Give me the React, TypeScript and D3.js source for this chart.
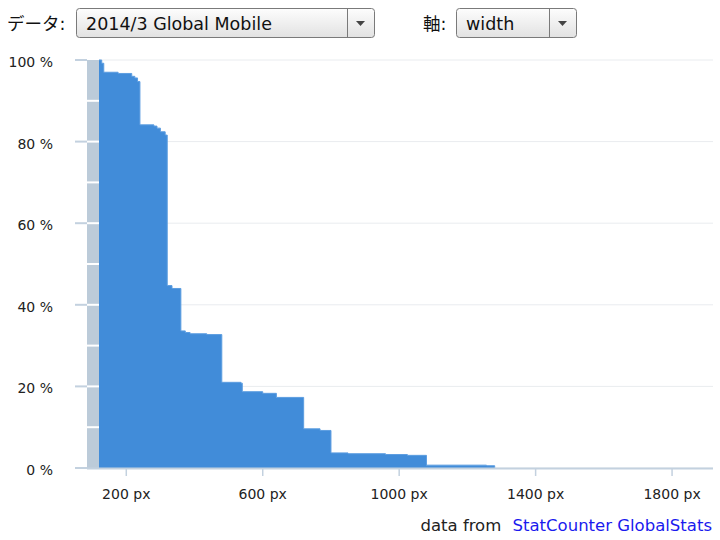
import * as d3 from 'd3'

// screen width (px) at which each step starts
const widths = [
  120, 128, 134, 176, 216, 225, 233, 240, 281, 290, 300, 314, 320, 334, 360, 373, 387,
  436, 480, 536, 540, 600, 640, 720, 768, 800, 850, 960, 1024, 1080, 1256, 1280,
]
// share of screens at least that wide (%)
const shares = [
  100, 99.2, 97.0, 96.7, 96.0, 95.6, 94.7, 84.1, 83.8, 83.3, 82.4, 81.6, 44.7, 44.0, 33.6,
  33.2, 32.9, 32.7, 21.0, 20.8, 18.7, 18.3, 17.3, 9.6, 9.2, 3.7, 3.5, 3.3, 3.1, 0.7, 0.55, 0,
]
const xTicks = [200, 600, 1000, 1400, 1800]
const yTicks = [0, 20, 40, 60, 80, 100]
const yMinor = [10, 30, 50, 70, 90]

const dataSelect = '2014/3 Global Mobile'
const axisSelect = 'width'

const WIDTH = 720
const HEIGHT = 540
const PLOT = { left: 99, right: 713, top: 60, bottom: 468 }
const FONT = '"DejaVu Sans", "Noto Sans CJK JP", sans-serif'

type Point = { w: number; p: number }

function SelectBox({ x, width, label }: { x: number; width: number; label: string }) {
  const y = 8
  const h = 29
  const divider = x + width - 27
  return (
    <g>
      <rect x={x + 0.5} y={y + 0.5} width={width} height={h} rx={3} fill="url(#selGrad)" stroke="#7a7a7a" />
      <line x1={divider + 0.5} x2={divider + 0.5} y1={y + 1} y2={y + h} stroke="#7a7a7a" />
      <path d={`M${divider + 9},${y + 13} h9 l-4.5,5 z`} fill="#444" />
      <text x={x + 10} y={30} fontSize={17.5} fill="#111" fontFamily={FONT}>
        {label}
      </text>
    </g>
  )
}

export default function App() {
  const data: Point[] = widths.map((w, i) => ({ w, p: shares[i] }))

  const x = d3.scaleLinear().domain([120, 1920]).range([PLOT.left, PLOT.right])
  const y = d3.scaleLinear().domain([0, 100]).range([PLOT.bottom, PLOT.top])

  const area = d3
    .area<Point>()
    .x((d) => x(d.w))
    .y0(y(0))
    .y1((d) => y(d.p))
    .curve(d3.curveStepAfter)

  const line = d3
    .line<Point>()
    .x((d) => x(d.w))
    .y((d) => y(d.p))
    .curve(d3.curveStepAfter)

  return (
    <div style={{ position: 'absolute', left: 0, top: 0 }}>
      <svg width={WIDTH} height={HEIGHT} style={{ display: 'block' }}>
        <defs>
          <linearGradient id="selGrad" x1="0" y1="0" x2="0" y2="1">
            <stop offset="0" stopColor="#fdfdfd" />
            <stop offset="1" stopColor="#e2e2e2" />
          </linearGradient>
        </defs>
        <rect width={WIDTH} height={HEIGHT} fill="#fff" />

        {/* header controls */}
        <text x={7} y={30} fontSize={17.5} fill="#111" fontFamily={FONT}>
          データ:
        </text>
        <SelectBox x={76} width={298} label={dataSelect} />
        <text x={423} y={30} fontSize={17.5} fill="#111" fontFamily={FONT}>
          軸:
        </text>
        <SelectBox x={456} width={120} label={axisSelect} />

        {/* grid */}
        {yTicks.map((t) => (
          <line
            key={`g${t}`}
            x1={PLOT.left}
            x2={PLOT.right}
            y1={y(t)}
            y2={y(t)}
            stroke="#e9ecef"
            strokeWidth={1}
          />
        ))}

        {/* y axis band */}
        <rect x={87} y={PLOT.top} width={PLOT.left - 87} height={PLOT.bottom - PLOT.top} fill="#bccbd9" />
        {[...yMinor, ...yTicks.filter((t) => t > 0 && t < 100)].map((t) => (
          <line key={`w${t}`} x1={87} x2={PLOT.left} y1={y(t)} y2={y(t)} stroke="#fff" strokeWidth={2} />
        ))}
        {yTicks.map((t) => (
          <g key={`y${t}`}>
            <line x1={75} x2={87} y1={y(t)} y2={y(t)} stroke="#c3d1df" strokeWidth={2} />
            <text
              x={53}
              y={y(t) + 7}
              textAnchor="end"
              fontSize={14}
              fill="#222"
              fontFamily={FONT}
            >
              {t} %
            </text>
          </g>
        ))}

        {/* data */}
        <path d={area(data) ?? ''} fill="#418cd9" />
        <path d={line(data) ?? ''} fill="none" stroke="#5c9de0" strokeWidth={1} />

        {/* x axis */}
        <line x1={87} x2={PLOT.right} y1={PLOT.bottom + 0.5} y2={PLOT.bottom + 0.5} stroke="#c3d1df" strokeWidth={2} />
        {xTicks.map((t) => (
          <g key={`x${t}`}>
            <line x1={x(t)} x2={x(t)} y1={PLOT.bottom + 1} y2={PLOT.bottom + 8} stroke="#c3d1df" strokeWidth={1.5} />
            <text x={x(t)} y={499} textAnchor="middle" fontSize={14} fill="#222" fontFamily={FONT}>
              {t} px
            </text>
          </g>
        ))}

        {/* source */}
        <text x={712} y={531} textAnchor="end" fontSize={16.5} fontFamily={FONT} fill="#222">
          data from{' '}
          <tspan fill="#1a1aee" dx={6}>
            StatCounter GlobalStats
          </tspan>
        </text>
      </svg>
    </div>
  )
}
